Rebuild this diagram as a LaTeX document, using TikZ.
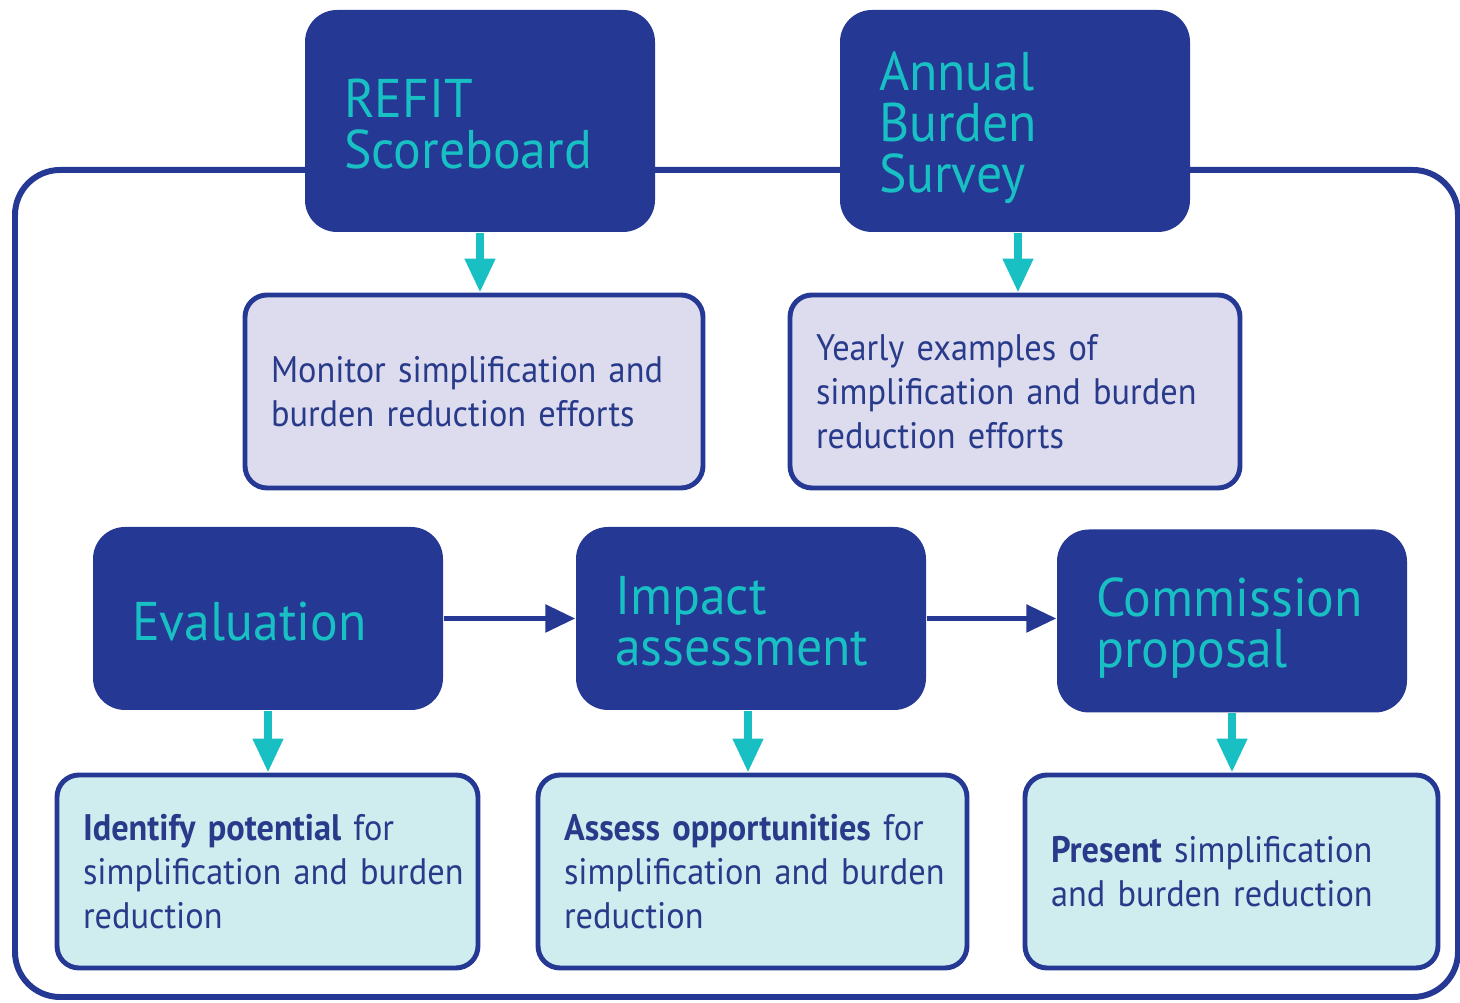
\documentclass[tikz,border=0pt]{standalone}
\usepackage{fontspec}
\setmainfont{PT Sans}
\newfontfamily\narrowsans{PT Sans}[FakeStretch=0.93]
\newfontfamily\headsans{PT Sans}[FakeStretch=0.95]
\usetikzlibrary{arrows.meta, positioning}
\definecolor{euNavy}{RGB}{36,56,148}
\definecolor{euText}{RGB}{40,58,138}
\definecolor{euTeal}{RGB}{24,192,196}
\definecolor{lavFill}{RGB}{221,219,238}
\definecolor{aquaFill}{RGB}{207,236,238}
\newcommand{\hstrut}{\rule{0pt}{0.44cm}}

\begin{document}
\begin{tikzpicture}[>=Triangle,
    headbox/.style={fill=euNavy, text=euTeal, rounded corners=0.32cm, inner xsep=0.39cm, inner ysep=0pt,
        text width=2.72cm, minimum height=1.83cm, align=left, font=\headsans\fontsize{15.5}{14.5}\selectfont},
    infobox/.style={draw=euNavy, line width=1.4pt, rounded corners=0.22cm, text=euText, inner xsep=0.26cm,
        inner ysep=0pt, minimum height=1.93cm, align=left, font=\narrowsans\fontsize{10.5}{12.5}\selectfont},
    tealarrow/.style={->, euTeal, line width=2.2pt, arrows={-Triangle[length=0.34cm, width=0.29cm]}},
    navyarrow/.style={->, euNavy, line width=1.6pt, arrows={-Triangle[length=0.3cm, width=0.27cm]}}
]
    \useasboundingbox (0,0) rectangle (14.6,-10.03);

    % outer frame
    \draw[euNavy, line width=1.7pt, rounded corners=0.45cm] (0.15,-1.70) rectangle (14.58,-9.97);

    % top row
    \node[headbox, minimum height=2.22cm] (refit) at (4.80,-1.21) {\hstrut REFIT\\Scoreboard};
    \node[headbox, minimum height=2.22cm] (survey) at (10.15,-1.21) {\rule{0pt}{0.52cm}Annual\\Burden\\Survey};

    \node[infobox, fill=lavFill, text width=4.06cm] (monitor) at (4.74,-3.915)
        {\mbox{Monitor simplification and}\\burden reduction efforts};
    \node[infobox, fill=lavFill, text width=3.98cm] (yearly) at (10.15,-3.915)
        {Yearly examples of\\\mbox{simplification and burden}\\reduction efforts};

    % policy cycle
    \node[headbox] (eval) at (2.68,-6.185) {\hstrut Evaluation};
    \node[headbox] (impact) at (7.51,-6.185) {\hstrut Impact\\assessment};
    \node[headbox] (commission) at (12.32,-6.21) {\rule{0pt}{0.52cm}Commission\\proposal};

    \node[infobox, fill=aquaFill, text width=3.69cm] (identify) at (2.675,-8.715)
        {\mbox{\textbf{Identify potential} for}\\\mbox{simplification and burden}\\reduction};
    \node[infobox, fill=aquaFill, text width=3.77cm] (assess) at (7.525,-8.715)
        {\mbox{\textbf{Assess opportunities} for}\\\mbox{simplification and burden}\\reduction};
    \node[infobox, fill=aquaFill, text width=3.61cm] (present) at (12.315,-8.715)
        {\mbox{\textbf{Present} simplification}\\and burden reduction};

    % connectors
    \draw[tealarrow] (refit.south) -- (refit.south |- monitor.north);
    \draw[tealarrow] ([xshift=0.03cm]survey.south) -- ([xshift=0.03cm]survey.south |- yearly.north);
    \draw[tealarrow] (eval.south) -- (eval.south |- identify.north);
    \draw[tealarrow] ([xshift=-0.03cm]impact.south) -- ([xshift=-0.03cm]impact.south |- assess.north);
    \draw[tealarrow] (commission.south) -- (commission.south |- present.north);

    \draw[navyarrow] (eval.east) -- (impact.west);
    \draw[navyarrow] (impact.east) -- (impact.east -| commission.west);
\end{tikzpicture}
\end{document}
